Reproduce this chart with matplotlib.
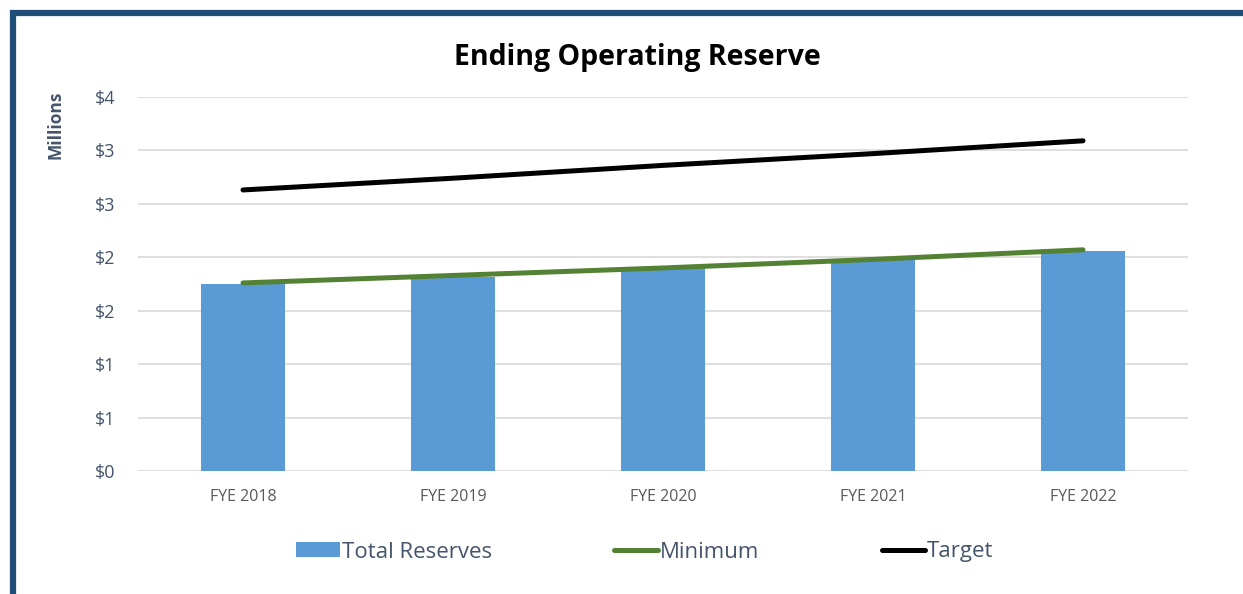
import math
import matplotlib
matplotlib.use("Agg")
import matplotlib.pyplot as plt
from matplotlib.patches import Rectangle
from matplotlib.ticker import FuncFormatter

# Data (millions of dollars)
years = ["FYE 2018", "FYE 2019", "FYE 2020", "FYE 2021", "FYE 2022"]
total_reserves = [1.75, 1.82, 1.90, 1.97, 2.06]
minimum = [1.76, 1.83, 1.90, 1.98, 2.07]
target = [2.63, 2.74, 2.86, 2.97, 3.09]

plt.rcParams['font.family'] = ['Open Sans', 'DejaVu Sans']

fig = plt.figure(figsize=(12.43, 5.94), dpi=100)
ax = fig.add_axes((138 / 1243, 1 - 471 / 594, 1050 / 1243, 374 / 594))  # (left, bottom, width, height)

x = list(range(len(years)))
bars = ax.bar(x, total_reserves, width=0.4, color="#5B9BD5", label="Total Reserves", zorder=2)
l_min, = ax.plot(x, minimum, color="#548235", linewidth=3.6, solid_capstyle='round', label="Minimum", zorder=3)
l_tgt, = ax.plot(x, target, color="black", linewidth=3.6, solid_capstyle='round', label="Target", zorder=3)

ax.set_xlim(-0.5, 4.5)
ax.set_ylim(0, 3.5)
ax.set_yticks([0, 0.5, 1, 1.5, 2, 2.5, 3, 3.5])
# Excel-style rounding of half values ($0.5 -> $1)
ax.yaxis.set_major_formatter(FuncFormatter(lambda v, pos: f"${int(math.floor(v + 0.5))}"))
ax.set_xticks(x, labels=years)
ax.tick_params(axis='y', length=0, labelsize=13, labelcolor="#44546A", pad=16)
ax.tick_params(axis='x', length=0, labelsize=11.5, labelcolor="#595959", pad=13)
ax.grid(axis='y', color="#D9D9D9", linewidth=1.2, zorder=0)
for spine in ax.spines.values():
    spine.set_visible(False)

fig.text(637 / 1243, 1 - 57 / 594, "Ending Operating Reserve", fontsize=20.5, fontweight='bold',
         ha='center', va='center', color="black")
fig.text(55 / 1243, 1 - 125 / 594, "Millions", fontsize=12.5, fontweight='bold', rotation=90,
         ha='center', va='center', color="#44546A")

leg = fig.legend(handles=[bars, l_min, l_tgt], loc='center', bbox_to_anchor=(645 / 1243, 1 - 552 / 594),
                 ncol=3, frameon=False, fontsize=16, handlelength=1.95, handletextpad=0.1,
                 columnspacing=5.5, handleheight=0.65)
for t in leg.get_texts():
    t.set_color("#44546A")

# dark blue frame around the chart area
fig.patches.append(Rectangle((13 / 1243, -0.1), 1.2, 1 - 12.5 / 594 + 0.1, transform=fig.transFigure,
                             fill=False, edgecolor="#1F4E79", linewidth=4.5))

fig.savefig("out.png", dpi=100)
